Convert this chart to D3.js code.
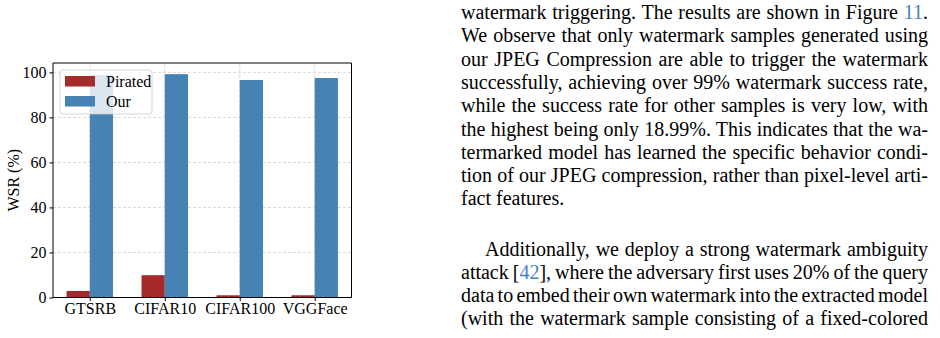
<!DOCTYPE html>
<html><head><meta charset="utf-8">
<script src="https://cdn.jsdelivr.net/npm/d3@7"></script>
<style>
html,body{margin:0;padding:0;background:#fff;}
svg{display:block;}
</style></head>
<body>
<svg id="c" width="940" height="338"></svg>
<script>
const categories = ["GTSRB", "CIFAR10", "CIFAR100", "VGGFace"];
const pirated = [2.9, 9.9, 1.0, 1.0];
const our = [98.8, 99.2, 96.6, 97.5];
const yTicks = [0, 20, 40, 60, 80, 100];
const seriesNames = ["Pirated", "Our"];
const seriesColors = ["#a52a2a", "#4682b4"];
const yLabel = "WSR (%)";

const para1 = [
  [["watermark triggering. The results are shown in Figure ", 0], ["11", 1], [".", 0]],
  [["We observe that only watermark samples generated using", 0]],
  [["our JPEG Compression are able to trigger the watermark", 0]],
  [["successfully, achieving over 99% watermark success rate,", 0]],
  [["while the success rate for other samples is very low, with", 0]],
  [["the highest being only 18.99%. This indicates that the wa-", 0]],
  [["termarked model has learned the specific behavior condi-", 0]],
  [["tion of our JPEG compression, rather than pixel-level arti-", 0]],
  [["fact features.", 0]]
];
const para2 = [
  [["Additionally, we deploy a strong watermark ambiguity", 0]],
  [["attack [", 0], ["42", 1], ["], where the adversary first uses 20% of the query", 0]],
  [["data to embed their own watermark into the extracted model", 0]],
  [["(with the watermark sample consisting of a fixed-colored", 0]]
];

const svg = d3.select("#c");
const font = "'Liberation Serif','Times New Roman',serif";
const fs = 16;
const barW = 0.31;
const n = categories.length;
const pad = (n - 1 + 2 * barW) * 0.05;
const x = d3.scaleLinear().domain([-barW - pad, n - 1 + barW + pad]).range([53, 351.5]);
const yMax = d3.max(our.concat(pirated)) * 1.05;
const y = d3.scaleLinear().domain([0, yMax]).range([297.5, 63]);

const g = svg.append("g");
// grid
g.selectAll(".hg").data(yTicks).join("line")
  .attr("x1", x.range()[0]).attr("x2", x.range()[1])
  .attr("y1", d => y(d)).attr("y2", d => y(d))
  .attr("stroke", "#cfcfcf").attr("stroke-width", 0.8).attr("stroke-dasharray", "3,2");
g.selectAll(".vg").data(categories).join("line")
  .attr("x1", (d, i) => x(i)).attr("x2", (d, i) => x(i))
  .attr("y1", y.range()[0]).attr("y2", y.range()[1])
  .attr("stroke", "#cfcfcf").attr("stroke-width", 0.8).attr("stroke-dasharray", "3,2");

// bars
[pirated, our].forEach((vals, s) => {
  g.selectAll(".b" + s).data(vals).join("rect")
    .attr("x", (d, i) => x(i - barW + s * barW))
    .attr("width", x(barW) - x(0))
    .attr("y", d => y(d))
    .attr("height", d => y(0) - y(d))
    .attr("fill", seriesColors[s]);
});

// spines
const [x0, x1] = x.range(), [yb, yt] = y.range();
g.append("line").attr("x1", x0).attr("x2", x0).attr("y1", yb).attr("y2", yt).attr("stroke", "#000").attr("stroke-width", 1);
g.append("line").attr("x1", x0).attr("x2", x1).attr("y1", yt).attr("y2", yt).attr("stroke", "#000").attr("stroke-width", 1);
g.append("line").attr("x1", x1).attr("x2", x1).attr("y1", yb).attr("y2", yt).attr("stroke", "#000").attr("stroke-width", 1);
g.append("line").attr("x1", x0).attr("x2", x1).attr("y1", yb).attr("y2", yb).attr("stroke", "#000").attr("stroke-width", 1);

// axes
const yAxis = d3.axisLeft(y).tickValues(yTicks).tickSize(3.5).tickPadding(3);
const ga = g.append("g").attr("transform", `translate(${x0},0)`).call(yAxis);
ga.select(".domain").remove();
ga.selectAll("text").attr("font-family", font).attr("font-size", fs).attr("fill", "#000");
const xAxis = d3.axisBottom(x).tickValues(d3.range(n)).tickFormat(i => categories[i]).tickSize(3.5).tickPadding(2);
const gx = g.append("g").attr("transform", `translate(0,${yb})`).call(xAxis);
gx.select(".domain").remove();
gx.selectAll("text").attr("font-family", font).attr("font-size", fs).attr("fill", "#000");

g.append("text").attr("transform", `translate(19,${(yb + yt) / 2}) rotate(-90)`)
  .attr("text-anchor", "middle").attr("font-family", font).attr("font-size", fs).text(yLabel);

// legend
const lg = g.append("g");
lg.append("rect").attr("x", 60).attr("y", 70).attr("width", 92).attr("height", 44).attr("rx", 3)
  .attr("fill", "#fff").attr("fill-opacity", 0.8).attr("stroke", "#ccc").attr("stroke-width", 0.8);
seriesNames.forEach((name, s) => {
  lg.append("rect").attr("x", 65).attr("y", 76 + s * 20).attr("width", 30).attr("height", 10.5).attr("fill", seriesColors[s]);
  lg.append("text").attr("x", 106).attr("y", 86.5 + s * 20).attr("font-family", font).attr("font-size", fs).text(name);
});

// text column
const tx0 = 461, tx1 = 928;
function drawLine(parts, baseline, indent, justify) {
  const t = svg.append("text").attr("x", tx0 + indent).attr("y", baseline)
    .attr("font-family", font).attr("font-size", 20).attr("fill", "#000")
    .attr("xml:space", "preserve");
  parts.forEach(([s, c]) => t.append("tspan").text(s).attr("fill", c ? "#3f7fc7" : "#000"));
  if (justify) {
    const full = parts.map(p => p[0]).join("");
    const spaces = (full.match(/ /g) || []).length;
    const w = t.node().getComputedTextLength();
    const target = tx1 - tx0 - indent;
    if (spaces > 0) t.attr("word-spacing", (target - w) / spaces);
  }
}
para1.forEach((p, i) => drawLine(p, 19 + i * 23.3, 0, i < para1.length - 1));
para2.forEach((p, i) => drawLine(p, 256 + i * 23, i === 0 ? 24 : 0, true));
</script>
</body></html>
